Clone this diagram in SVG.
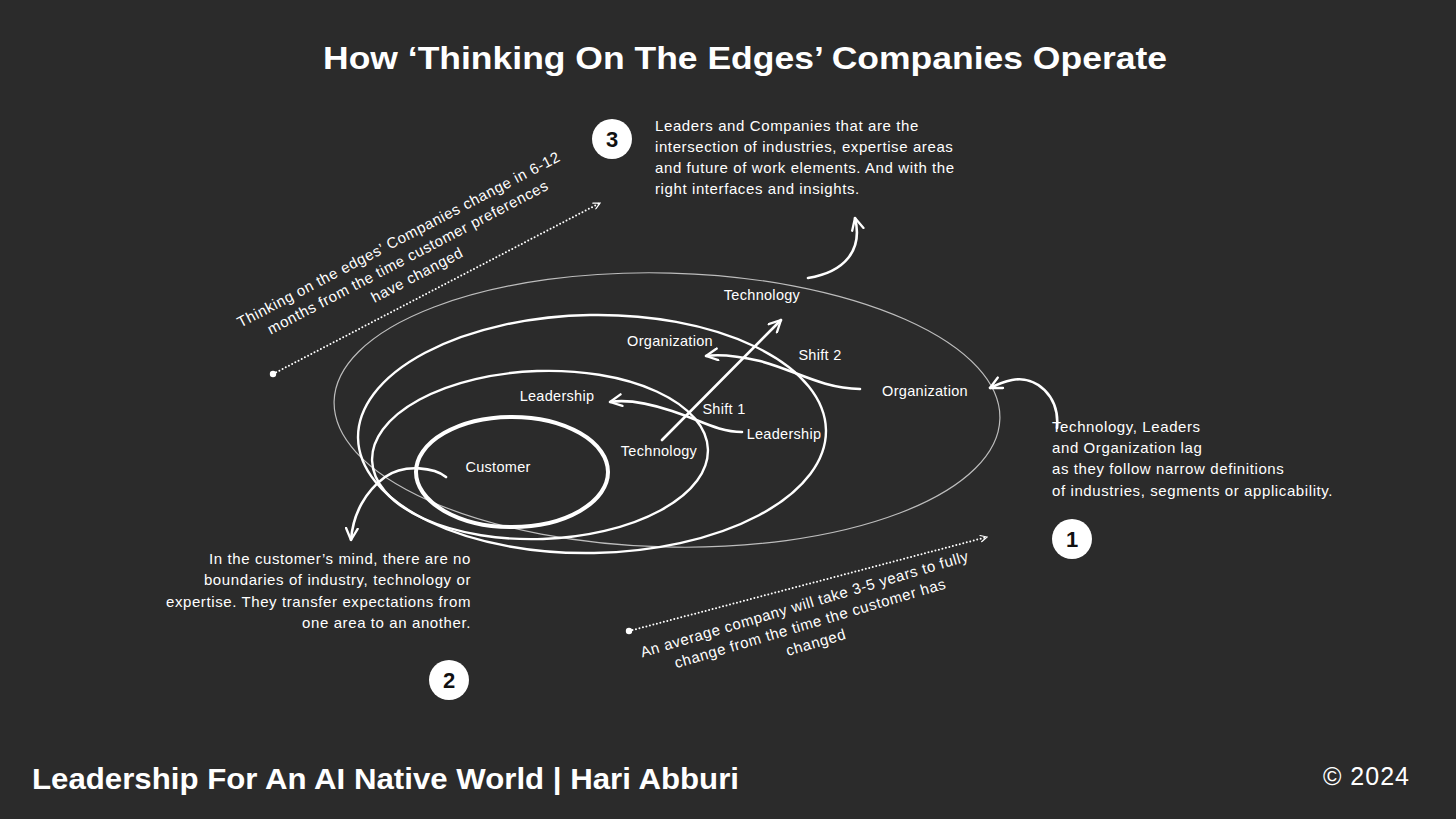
<svg xmlns="http://www.w3.org/2000/svg" width="1456" height="819" viewBox="0 0 1456 819">
<style>
.t{font-family:"Liberation Sans",Arial,sans-serif;fill:#fff;font-size:15px;letter-spacing:0.6px}
.lab{font-family:"Liberation Sans",Arial,sans-serif;fill:#fff;font-size:14.5px;letter-spacing:0.3px}
.h{font-family:"Liberation Sans",Arial,sans-serif;fill:#fff;font-weight:bold}
.num{font-family:"Liberation Sans",Arial,sans-serif;fill:#111;font-weight:bold;font-size:22px;text-anchor:middle}
.arr{fill:none;stroke:#fff;stroke-width:2.6;stroke-linecap:round;stroke-linejoin:round}
.dot{fill:none;stroke:#fff;stroke-width:2;stroke-dasharray:0 3.6;stroke-linecap:round}
</style>
<defs>
<marker id="ah" viewBox="0 0 12 12" refX="11" refY="6" markerWidth="14" markerHeight="14" markerUnits="userSpaceOnUse" orient="auto">
<path d="M1,1 L11,6 L1,11" fill="none" stroke="#fff" stroke-width="2" stroke-linecap="round" stroke-linejoin="round"/>
</marker>
<marker id="ahs" viewBox="0 0 10 10" refX="9" refY="5" markerWidth="8" markerHeight="8" markerUnits="userSpaceOnUse" orient="auto">
<path d="M1,1 L9,5 L1,9" fill="none" stroke="#fff" stroke-width="1.5" stroke-linecap="round"/>
</marker>
</defs>
<rect width="1456" height="819" fill="#2b2b2b"/>
<text class="h" x="745" y="69" font-size="31" text-anchor="middle" textLength="844" lengthAdjust="spacingAndGlyphs">How ‘Thinking On The Edges’ Companies Operate</text>

<g id="ellipses">
<ellipse cx="667" cy="410" rx="333" ry="137" fill="none" stroke="#bdbdbd" stroke-width="1.2" transform="rotate(1.5 667 410)"/>
<ellipse cx="592" cy="434" rx="234" ry="119" fill="none" stroke="#fff" stroke-width="2.4" transform="rotate(-1 592 434)"/>
<ellipse cx="540" cy="455" rx="168" ry="84" fill="none" stroke="#fff" stroke-width="2.4" transform="rotate(-2 540 455)"/>
<ellipse cx="512" cy="472" rx="96" ry="55" fill="none" stroke="#fff" stroke-width="4"/>
</g>

<g id="labels">
<text class="lab" x="762" y="300" text-anchor="middle">Technology</text>
<text class="lab" x="670" y="346" text-anchor="middle">Organization</text>
<text class="lab" x="820" y="360" text-anchor="middle">Shift 2</text>
<text class="lab" x="925" y="396" text-anchor="middle">Organization</text>
<text class="lab" x="557" y="401" text-anchor="middle">Leadership</text>
<text class="lab" x="724" y="414" text-anchor="middle">Shift 1</text>
<text class="lab" x="784" y="439" text-anchor="middle">Leadership</text>
<text class="lab" x="659" y="456" text-anchor="middle">Technology</text>
<text class="lab" x="498" y="472" text-anchor="middle">Customer</text>
</g>

<g id="connectors">
<path class="arr" d="M662,440 L781,320" marker-end="url(#ah)" stroke-width="3"/>
<path class="arr" d="M860,389 C820,388 795,370 760,361 C738,356 720,354 706,356" marker-end="url(#ah)" stroke-width="3"/>
<path class="arr" d="M742,432 C718,432 700,420 672,411 C648,403 628,399 610,402" marker-end="url(#ah)" stroke-width="3"/>
<path class="arr" d="M446,477 C435,468 405,463 385,477 C366,491 353,513 351,540" marker-end="url(#ah)" stroke-width="3"/>
<path class="arr" d="M808,278 C845,272 863,250 855,218" marker-end="url(#ah)"/>
<path class="arr" d="M1057,428 C1060,396 1036,375 1012,380 C1002,382 996,385 990,388" marker-end="url(#ah)"/>
<path class="dot" d="M273,374 L600,203" marker-end="url(#ahs)"/>
<circle cx="273" cy="374" r="3.2" fill="#fff"/>
<path class="dot" d="M629,631 L987,537" marker-end="url(#ahs)"/>
<circle cx="629" cy="631" r="3.2" fill="#fff"/>
</g>

<g id="note3">
<circle cx="612" cy="139" r="20" fill="#fff"/>
<text class="num" x="612" y="147">3</text>
<text class="t" x="655" y="131">Leaders and Companies that are the</text>
<text class="t" x="655" y="152">intersection of industries, expertise areas</text>
<text class="t" x="655" y="173">and future of work elements. And with the</text>
<text class="t" x="655" y="194">right interfaces and insights.</text>
</g>

<g id="note1">
<circle cx="1072" cy="539" r="20" fill="#fff"/>
<text class="num" x="1072" y="547">1</text>
<text class="t" x="1052" y="432">Technology, Leaders</text>
<text class="t" x="1052" y="453">and Organization lag</text>
<text class="t" x="1052" y="474">as they follow narrow definitions</text>
<text class="t" x="1052" y="496">of industries, segments or applicability.</text>
</g>

<g id="note2">
<circle cx="449" cy="680" r="20" fill="#fff"/>
<text class="num" x="449" y="688">2</text>
<text class="t" x="471" y="564" text-anchor="end">In the customer’s mind, there are no</text>
<text class="t" x="471" y="585" text-anchor="end">boundaries of industry, technology or</text>
<text class="t" x="471" y="607" text-anchor="end">expertise. They transfer expectations from</text>
<text class="t" x="471" y="628" text-anchor="end">one area to an another.</text>
</g>

<g id="edges-note" transform="translate(401,244) rotate(-27.6)">
<text class="t" x="0" y="0" text-anchor="middle">Thinking on the edges’ Companies change in 6-12</text>
<text class="t" x="0" y="20" text-anchor="middle">months from the time customer preferences</text>
<text class="t" x="0" y="40" text-anchor="middle">have changed</text>
</g>

<g id="average-note" transform="translate(806,609) rotate(-16.5)">
<text class="t" x="0" y="0" text-anchor="middle">An average company will take 3-5 years to fully</text>
<text class="t" x="0" y="20" text-anchor="middle">change from the time the customer has</text>
<text class="t" x="0" y="40" text-anchor="middle">changed</text>
</g>

<text class="h" x="32" y="789" font-size="29" textLength="707" lengthAdjust="spacingAndGlyphs">Leadership For An AI Native World | Hari Abburi</text>
<text x="1323" y="785" font-family="'Liberation Sans',Arial,sans-serif" font-size="25" letter-spacing="1" fill="#fff">© 2024</text>
</svg>
